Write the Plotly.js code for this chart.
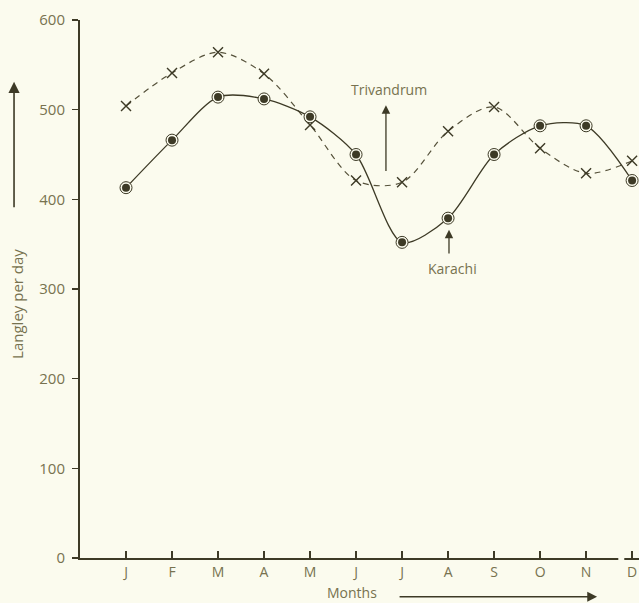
<!DOCTYPE html>
<html>
<head>
<meta charset="utf-8">
<script src="https://cdn.plot.ly/plotly-3.0.1.min.js"></script>
<style>
  html, body { margin: 0; padding: 0; background: #fbfbee; }
  #chart { width: 639px; height: 603px; }
</style>
</head>
<body>
<div id="chart"></div>
<script>
// Data
const months = [1, 2, 3, 4, 5, 6, 7, 8, 9, 10, 11, 12];
const monthLabels = ["J", "F", "M", "A", "M", "J", "J", "A", "S", "O", "N", "D"];
const karachi = [413, 466, 514, 512, 492, 450, 352, 379, 450, 482, 482, 421];
const trivandrum = [504, 541, 564, 540, 483, 421, 419, 476, 503, 457, 429, 443];
const yTicks = [0, 100, 200, 300, 400, 500, 600];

const ink = "#3d3a26";
const textCol = "#77724f";
const bg = "#fbfbee";
const font = "Open Sans, DejaVu Sans, sans-serif";

const traces = [
  {
    x: months, y: trivandrum, type: "scatter", mode: "lines+markers",
    name: "Trivandrum",
    line: { color: "#55513a", width: 1.2, dash: "6px,5px", shape: "spline", smoothing: 0.9 },
    marker: { symbol: "x-thin-open", size: 10, color: ink, line: { color: ink, width: 1.4 } },
    hoverinfo: "skip"
  },
  {
    x: months, y: karachi, type: "scatter", mode: "lines",
    name: "Karachi",
    line: { color: ink, width: 1.3, shape: "spline", smoothing: 0.8 },
    hoverinfo: "skip"
  },
  {
    x: months, y: karachi, type: "scatter", mode: "markers",
    name: "Karachi ring",
    marker: { symbol: "circle", size: 12, color: bg, line: { color: ink, width: 1 } },
    hoverinfo: "skip"
  },
  {
    x: months, y: karachi, type: "scatter", mode: "markers",
    name: "Karachi dot",
    marker: { symbol: "circle", size: 8, color: ink, line: { width: 0 } },
    hoverinfo: "skip"
  }
];

const layout = {
  width: 639, height: 603,
  margin: { l: 80, r: 0, t: 20, b: 45 },
  paper_bgcolor: bg, plot_bgcolor: bg,
  showlegend: false,
  font: { family: font, color: textCol, size: 14 },
  xaxis: {
    range: [0, 12.15],
    tickvals: months, ticktext: monthLabels,
    showgrid: false, zeroline: false,
    showline: true, linecolor: ink, linewidth: 2,
    ticks: "inside", ticklen: 7, tickcolor: ink, tickwidth: 1.2,
    tickfont: { family: font, size: 14, color: textCol },
    fixedrange: true
  },
  yaxis: {
    range: [0, 600],
    tickvals: yTicks,
    showgrid: false, zeroline: false,
    showline: true, linecolor: ink, linewidth: 2,
    ticks: "outside", ticklen: 6, tickcolor: ink, tickwidth: 1.2,
    tickfont: { family: font, size: 15, color: textCol },
    ticklabelstandoff: 4,
    fixedrange: true
  },
  shapes: [
    // small break in the x axis line near December, as in the reference
    { type: "rect", xref: "x", yref: "paper", x0: 11.7, x1: 11.83, y0: -0.004, y1: 0.004,
      fillcolor: bg, line: { width: 0 }, layer: "above" }
  ],
  annotations: [
    // y-axis title and arrow
    { xref: "paper", yref: "paper", x: -0.113, y: 0.472, xanchor: "center", yanchor: "middle",
      text: "Langley per day",
      textangle: -90, showarrow: false, font: { family: font, size: 15, color: textCol } },
    { xref: "paper", yref: "paper", x: -0.118, y: 0.885, ax: 0, ay: 127, text: "",
      showarrow: true, arrowhead: 2, arrowsize: 1.4, arrowwidth: 1.6, arrowcolor: ink },
    // x-axis title and arrow
    { xref: "paper", yref: "paper", x: 0.486, y: -0.064, xanchor: "center", yanchor: "middle",
      text: "Months",
      showarrow: false, font: { family: font, size: 14, color: textCol } },
    { xref: "paper", yref: "paper", x: 0.925, y: -0.072, ax: -199, ay: 0, text: "",
      showarrow: true, arrowhead: 2, arrowsize: 1.4, arrowwidth: 1.4, arrowcolor: ink },
    // Trivandrum label
    { xref: "x", yref: "y", x: 6.72, y: 523, text: "Trivandrum",
      showarrow: false, font: { family: font, size: 14, color: textCol } },
    { xref: "x", yref: "y", axref: "x", ayref: "y", x: 6.65, y: 505, ax: 6.65, ay: 430, text: "",
      showarrow: true, arrowhead: 2, arrowsize: 1.3, arrowwidth: 1.3, arrowcolor: ink },
    // Karachi label
    { xref: "x", yref: "y", x: 8.1, y: 323, text: "Karachi",
      showarrow: false, font: { family: font, size: 14, color: textCol } },
    { xref: "x", yref: "y", axref: "x", ayref: "y", x: 8.02, y: 366, ax: 8.02, ay: 338, text: "",
      showarrow: true, arrowhead: 2, arrowsize: 1.3, arrowwidth: 1.3, arrowcolor: ink }
  ]
};

Plotly.newPlot("chart", traces, layout, { staticPlot: true, displayModeBar: false });
</script>
</body>
</html>
